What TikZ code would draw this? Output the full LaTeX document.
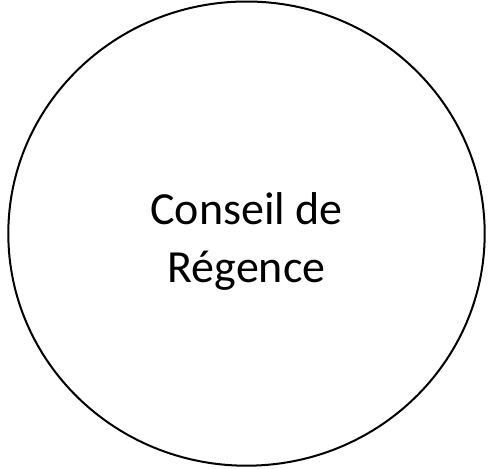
\documentclass[tikz,border=0pt]{standalone}
\usepackage{fontspec}
\setmainfont{Carlito}
\usepackage{tikz}
\usetikzlibrary{shapes.geometric}

\begin{document}
\begin{tikzpicture}[x=1pt, y=-1pt]
  \useasboundingbox (0,0) rectangle (488,469);
  %nodes
  \node[draw, ellipse, line width=2pt, inner sep=0pt, minimum width=476.4pt, minimum height=464.2pt](conseil) at (246.5,233.6) {};
  \node[align=center, font=\fontsize{46}{58}\selectfont, yshift=-8pt](nom) at (conseil.center) {Conseil de\\R\'egence};
\end{tikzpicture}
\end{document}
